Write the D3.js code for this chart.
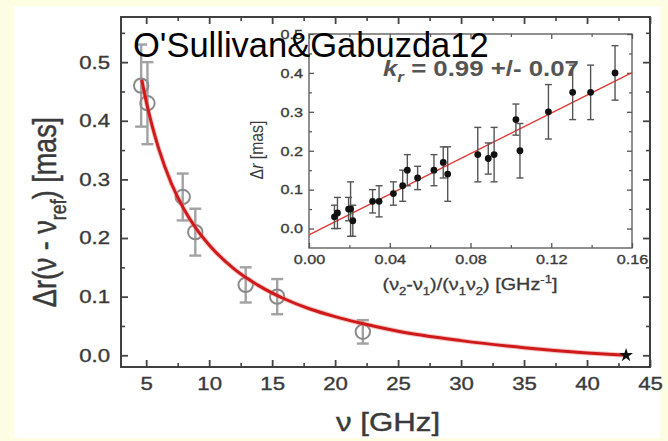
<!DOCTYPE html>
<html><head><meta charset="utf-8">
<script src="https://cdn.jsdelivr.net/npm/d3@7"></script>
<style>
html,body{margin:0;padding:0;background:#fdfde4;}
svg{display:block;}
</style></head><body>
<svg id="chart" width="668" height="441"></svg>
<script>
// ---------- data ----------
const mainFreq  = [4.6, 5.1, 7.9, 8.9, 12.9, 15.4, 22.2];
const mainShift = [0.46, 0.43, 0.27, 0.21, 0.12, 0.10, 0.04];
const mainErr   = [0.07, 0.07, 0.04, 0.04, 0.03, 0.03, 0.02];
const refFreq   = [43.1];
const refShift  = [0.0];
const fitFreq   = [4.65, 5, 5.5, 6, 7, 8, 9, 10, 12, 14, 16, 18, 20, 22, 25, 30, 35, 40, 43.1];
const fitShift  = [0.470, 0.433, 0.389, 0.352, 0.293, 0.249, 0.215, 0.188, 0.147, 0.118, 0.096, 0.079, 0.066, 0.055, 0.041, 0.025, 0.013, 0.004, 0.0];

const insetX   = [0.0126, 0.0141, 0.0196, 0.0206, 0.0217, 0.0315, 0.0347, 0.0418, 0.0464, 0.0487, 0.0538, 0.0619, 0.0665, 0.0687, 0.0836, 0.0888, 0.0917, 0.1025, 0.1045, 0.1186, 0.1306, 0.1395, 0.1516];
const insetY   = [0.03, 0.04, 0.05, 0.05, 0.02, 0.07, 0.07, 0.09, 0.11, 0.15, 0.13, 0.15, 0.17, 0.14, 0.19, 0.18, 0.19, 0.28, 0.20, 0.30, 0.35, 0.35, 0.40];
const insetErr = [0.03, 0.04, 0.03, 0.07, 0.04, 0.03, 0.04, 0.03, 0.04, 0.04, 0.03, 0.04, 0.04, 0.07, 0.07, 0.04, 0.07, 0.04, 0.07, 0.07, 0.07, 0.07, 0.07];
const insetFitX = [0, 0.16];
const insetFitY = [-0.016, 0.401];

const mainXTicks = [5, 10, 15, 20, 25, 30, 35, 40, 45];
const mainXMinor = [7.5, 12.5, 17.5, 22.5, 27.5, 32.5, 37.5, 42.5];
const mainYTicks = [0, 0.1, 0.2, 0.3, 0.4, 0.5];
const mainYMinor = [0.05, 0.15, 0.25, 0.35, 0.45, 0.55];
const insetXTicks = [0, 0.04, 0.08, 0.12, 0.16];
const insetXMinor = [0.02, 0.06, 0.10, 0.14];
const insetYTicks = [0, 0.1, 0.2, 0.3, 0.4, 0.5];
const insetYMinor = [0.05, 0.15, 0.25, 0.35, 0.45];

const titleText = "O'Sullivan&Gabuzda12";
const fitLabel  = " = 0.99 +/- 0.07";

// ---------- drawing ----------
const FONT = "'Liberation Sans', Arial, Helvetica, sans-serif";
const SX = 1.2;           // horizontal stretch of the embedded figure
const TXT = "#3a3a3a";
const svg = d3.select("#chart");

svg.append("rect").attr("x",0).attr("y",0).attr("width",668).attr("height",441).attr("fill","#fdfde4");
svg.append("rect").attr("x",14).attr("y",6).attr("width",646).attr("height",432).attr("fill","#ffffff");

const x = d3.scaleLinear().domain([3, 45]).range([121, 650]);
const y = d3.scaleLinear().domain([-0.02, 0.577]).range([367, 17]);
const xi = d3.scaleLinear().domain([0, 0.16]).range([309, 632]);
const yi = d3.scaleLinear().domain([-0.05, 0.5]).range([248, 34]);

function axis(gen, tx, ty, values, size, fmt, fs, pad, stroke, sw, vertical) {
  const g = svg.append("g").attr("transform", `translate(${tx},${ty})`)
    .call(gen.tickValues(values).tickSize(-size).tickSizeOuter(0).tickPadding(pad)
      .tickFormat(fmt || (() => "")));
  g.select(".domain").remove();
  g.selectAll(".tick line").attr("stroke", stroke).attr("stroke-width", sw);
  const t = g.selectAll(".tick text").attr("font-family", FONT).attr("font-size", fs).attr("fill", TXT)
    .attr("stroke", TXT).attr("stroke-width", 0.35)
    .attr("transform", `scale(${SX},1)`);
  if (vertical) t.attr("x", -pad / SX);
  return g;
}

function rich(text, parts, fs) {
  let cur = 0;
  parts.forEach(p => {
    const shift = p.sub ? 0.3 * fs : p.sup ? -0.42 * fs : 0;
    const ts = text.append("tspan").text(p.t).attr("dy", shift - cur);
    if (p.sub || p.sup) ts.attr("font-size", fs * 0.66);
    if (p.italic) ts.attr("font-style", "italic");
    cur = shift;
  });
}

// main axes (ticks inward on all sides)
const AX = "#444";
axis(d3.axisBottom(x), 0, 367, mainXTicks, 7, d3.format("d"), 18.5, 10, AX, 1.8);
axis(d3.axisBottom(x), 0, 367, mainXMinor, 4, null, 18.5, 10, AX, 1.6);
axis(d3.axisTop(x), 0, 17, mainXTicks, 7, null, 18.5, 10, AX, 1.8);
axis(d3.axisTop(x), 0, 17, mainXMinor, 4, null, 18.5, 10, AX, 1.6);
axis(d3.axisLeft(y), 121, 0, mainYTicks, 7, d3.format(".1f"), 18.5, 11, AX, 1.8, true);
axis(d3.axisLeft(y), 121, 0, mainYMinor, 4, null, 18.5, 11, AX, 1.6, true);
axis(d3.axisRight(y), 650, 0, mainYTicks, 7, null, 18.5, 11, AX, 1.8);
axis(d3.axisRight(y), 650, 0, mainYMinor, 4, null, 18.5, 11, AX, 1.6);
svg.append("rect").attr("x", x(3)).attr("y", y(0.577)).attr("width", x(45) - x(3)).attr("height", y(-0.02) - y(0.577))
  .attr("fill", "none").attr("stroke", "#404040").attr("stroke-width", 2);

// main error bars and open circles
const mainData = d3.range(mainFreq.length).map(i => ({f: mainFreq[i], v: mainShift[i], e: mainErr[i]}));
const eb = svg.append("g").attr("stroke", "#a2a2a2").attr("stroke-width", 2.4).attr("fill", "none");
mainData.forEach(d => {
  eb.append("line").attr("x1", x(d.f)).attr("x2", x(d.f)).attr("y1", y(d.v - d.e)).attr("y2", y(d.v + d.e));
  eb.append("line").attr("x1", x(d.f) - 6).attr("x2", x(d.f) + 6).attr("y1", y(d.v - d.e)).attr("y2", y(d.v - d.e));
  eb.append("line").attr("x1", x(d.f) - 6).attr("x2", x(d.f) + 6).attr("y1", y(d.v + d.e)).attr("y2", y(d.v + d.e));
});
svg.append("g").selectAll("circle").data(mainData).join("circle")
  .attr("cx", d => x(d.f)).attr("cy", d => y(d.v)).attr("r", 7.2)
  .attr("fill", "none").attr("stroke", "#8a8a8a").attr("stroke-width", 2);

// fitted curve
const fitPts = d3.zip(fitFreq, fitShift);
const line = d3.line().x(d => x(d[0])).y(d => y(d[1])).curve(d3.curveMonotoneX);
svg.append("path").attr("d", line(fitPts)).attr("fill", "none").attr("stroke", "#e88080").attr("stroke-width", 5).attr("opacity", 0.45);
svg.append("path").attr("d", line(fitPts)).attr("fill", "none").attr("stroke", "#d01a1a").attr("stroke-width", 3);

// reference star
svg.append("g").selectAll("path").data(d3.zip(refFreq, refShift)).join("path")
  .attr("transform", d => `translate(${x(d[0])},${y(d[1])})`)
  .attr("d", d3.symbol(d3.symbolStar).size(60)).attr("fill", "#111");

// ---------- inset ----------
svg.append("rect").attr("x", xi(0)).attr("y", yi(0.5)).attr("width", xi(0.16) - xi(0)).attr("height", yi(-0.05) - yi(0.5))
  .attr("fill", "#fff");
const IA = "#555";
axis(d3.axisBottom(xi), 0, 248, insetXTicks, 5, d3.format(".2f"), 13.5, 6.5, IA, 1.3);
axis(d3.axisBottom(xi), 0, 248, insetXMinor, 3, null, 13.5, 6.5, IA, 1.2);
axis(d3.axisTop(xi), 0, 34, insetXTicks, 5, null, 13.5, 6.5, IA, 1.3);
axis(d3.axisTop(xi), 0, 34, insetXMinor, 3, null, 13.5, 6.5, IA, 1.2);
axis(d3.axisLeft(yi), 309, 0, insetYTicks, 5, d3.format(".1f"), 13.5, 6, IA, 1.3, true);
axis(d3.axisLeft(yi), 309, 0, insetYMinor, 3, null, 13.5, 6, IA, 1.2, true);
axis(d3.axisRight(yi), 632, 0, insetYTicks, 5, null, 13.5, 6, IA, 1.3);
axis(d3.axisRight(yi), 632, 0, insetYMinor, 3, null, 13.5, 6, IA, 1.2);
svg.append("rect").attr("x", xi(0)).attr("y", yi(0.5)).attr("width", xi(0.16) - xi(0)).attr("height", yi(-0.05) - yi(0.5))
  .attr("fill", "none").attr("stroke", "#555").attr("stroke-width", 1.3);

svg.append("path").attr("d", d3.line().x(d => xi(d[0])).y(d => yi(d[1]))(d3.zip(insetFitX, insetFitY)))
  .attr("stroke", "#e03a34").attr("stroke-width", 1.4).attr("fill", "none");

const insetData = d3.range(insetX.length).map(i => ({a: insetX[i], v: insetY[i], e: insetErr[i]}));
const ieb = svg.append("g").attr("stroke", "#555").attr("stroke-width", 1.4);
insetData.forEach(d => {
  ieb.append("line").attr("x1", xi(d.a)).attr("x2", xi(d.a)).attr("y1", yi(d.v - d.e)).attr("y2", yi(d.v + d.e));
  ieb.append("line").attr("x1", xi(d.a) - 3.5).attr("x2", xi(d.a) + 3.5).attr("y1", yi(d.v - d.e)).attr("y2", yi(d.v - d.e));
  ieb.append("line").attr("x1", xi(d.a) - 3.5).attr("x2", xi(d.a) + 3.5).attr("y1", yi(d.v + d.e)).attr("y2", yi(d.v + d.e));
});
svg.append("g").selectAll("circle").data(insetData).join("circle")
  .attr("cx", d => xi(d.a)).attr("cy", d => yi(d.v)).attr("r", 3.4).attr("fill", "#111");

// k_r label
const kr = svg.append("text").attr("transform", `translate(383,76) scale(${SX},1)`)
  .attr("font-family", FONT).attr("font-size", 21.5).attr("font-weight", "bold").attr("fill", "#555");
rich(kr, [{t: "k", italic: true}, {t: "r", sub: true, italic: true}, {t: fitLabel}], 21.5);

// inset axis titles
const ixt = svg.append("text").attr("transform", `translate(470,290) scale(${SX},1)`)
  .attr("text-anchor", "middle").attr("font-family", FONT).attr("font-size", 16.5).attr("fill", TXT)
  .attr("stroke", TXT).attr("stroke-width", 0.3);
rich(ixt, [{t: "(ν"}, {t: "2", sub: true}, {t: "-ν"}, {t: "1", sub: true}, {t: ")/(ν"}, {t: "1", sub: true},
           {t: "ν"}, {t: "2", sub: true}, {t: ") [GHz"}, {t: "-1", sup: true}, {t: "]"}], 16.5);
const iyt = svg.append("text").attr("transform", `translate(263,150) rotate(-90) scale(1,${SX})`)
  .attr("text-anchor", "middle").attr("font-family", FONT).attr("font-size", 15.8).attr("fill", TXT);
rich(iyt, [{t: "Δ"}, {t: "r", italic: true}, {t: " [mas]"}], 15.8);

// main axis titles
svg.append("text").attr("transform", `translate(388,431) scale(1.18,1)`)
  .attr("text-anchor", "middle").attr("font-family", FONT).attr("font-size", 26.5).attr("fill", TXT)
  .attr("stroke", TXT).attr("stroke-width", 0.4)
  .text("ν [GHz]");
const myt = svg.append("text").attr("transform", `translate(56,212) rotate(-90) scale(1,${SX})`)
  .attr("text-anchor", "middle").attr("font-family", FONT).attr("font-size", 27).attr("fill", TXT)
  .attr("stroke", TXT).attr("stroke-width", 0.4);
rich(myt, [{t: "Δr(ν - ν"}, {t: "ref", sub: true}, {t: ") [mas]"}], 27);

// overlay title
svg.append("text").attr("x", 133).attr("y", 57).attr("font-family", FONT).attr("font-size", 34.5)
  .attr("fill", "#000").text(titleText);
</script>
</body></html>
